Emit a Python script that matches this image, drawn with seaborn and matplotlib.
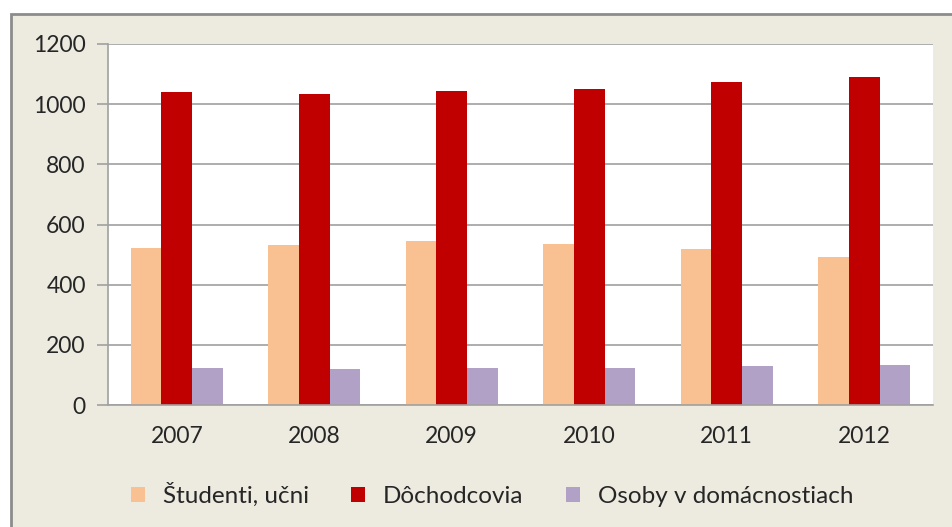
"""
Štruktúra ekonomicky neaktívnych osôb 2007-2012
"""

import numpy as np
import pandas as pd
import matplotlib
matplotlib.use('Agg')
import matplotlib.pyplot as plt
from matplotlib.patches import Rectangle
import seaborn as sns


years = ['2007', '2008', '2009', '2010', '2011', '2012']
studenti = [523, 532, 544, 536, 520, 493]
dochodcovia = [1039, 1035, 1043, 1052, 1073, 1090]
osoby_dom = [124, 119, 124, 124, 128, 132]
series_names = ['Študenti, učni', 'Dôchodcovia', 'Osoby v domácnostiach']
colors = ['#F9C091', '#C00000', '#B2A1C7']
y_ticks = [0, 200, 400, 600, 800, 1000, 1200]

df = pd.DataFrame({
    'rok': years * 3,
    'hodnota': studenti + dochodcovia + osoby_dom,
    'skupina': [s for s in series_names for _ in years],
})

sns.set_style('white')
plt.rcParams['font.family'] = ['Lato', 'DejaVu Sans']

bg = '#EDEAE0'
fig = plt.figure(figsize=(9.52, 5.27), dpi=100)
fig.patch.set_facecolor('white')
# rámček grafu
frame = Rectangle((11 / 952, -0.01), 1.0, 1 - 14 / 527 + 0.01,
                  transform=fig.transFigure, facecolor=bg,
                  edgecolor='#8C8C8C', linewidth=2, zorder=-1)
fig.patches.append(frame)

ax = fig.add_axes([108 / 952, 1 - 405 / 527, 825 / 952, 361 / 527])
ax.set_facecolor('white')

sns.barplot(data=df, x='rok', y='hodnota', hue='skupina', hue_order=series_names,
            palette=colors, width=0.67, saturation=1, ax=ax, legend=True,
            edgecolor='none', linewidth=0)

ax.set_ylim(0, 1200)
ax.set_yticks(y_ticks)
ax.yaxis.grid(True, color='#A0A0A0', linewidth=1.2)
ax.set_axisbelow(True)
ax.tick_params(axis='y', length=8, width=1.2, color='#A0A0A0', labelsize=16.5, pad=8,
               labelcolor='#262626', left=True)
ax.tick_params(axis='x', length=0, labelsize=16.5, pad=15, labelcolor='#262626')
for side in ['top', 'right']:
    ax.spines[side].set_visible(False)
for side in ['left', 'bottom']:
    ax.spines[side].set_color('#A0A0A0')
    ax.spines[side].set_linewidth(1.2)
ax.set_xlabel('')
ax.set_ylabel('')

handles, labels = ax.get_legend_handles_labels()
ax.legend_.remove()
fig.legend(handles, labels, loc='center', bbox_to_anchor=(492 / 952, 1 - 495 / 527),
           ncol=3, frameon=False, fontsize=17.5, handlelength=0.58, handleheight=0.58,
           handletextpad=0.74, columnspacing=1.73, labelcolor='#262626')

plt.savefig('out.png', dpi=100, facecolor=fig.get_facecolor())
plt.close()
